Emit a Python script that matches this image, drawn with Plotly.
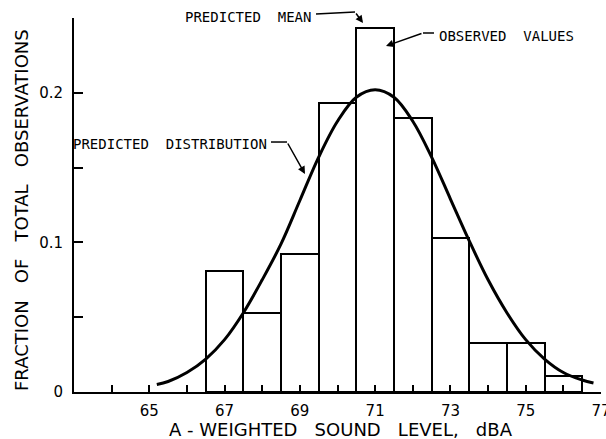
import plotly.graph_objects as go

# ---- data ----
bar_centers = [67, 68, 69, 70, 71, 72, 73, 74, 75, 76]
bar_values = [0.081, 0.053, 0.092, 0.193, 0.243, 0.183, 0.103, 0.033, 0.033, 0.011]

curve_x = [65.2, 65.5, 66.0, 66.5, 67.0, 67.5, 68.0, 68.5, 69.0, 69.5, 70.0, 70.5,
           71.0, 71.5, 72.0, 72.5, 73.0, 73.5, 74.0, 74.5, 75.0, 75.5, 76.0, 76.5, 76.8]
curve_y = [0.005, 0.007, 0.013, 0.022, 0.035, 0.053, 0.075, 0.099, 0.128, 0.157, 0.181, 0.197,
           0.202, 0.197, 0.181, 0.157, 0.129, 0.101, 0.075, 0.053, 0.035, 0.022, 0.013, 0.008, 0.006]

x_tick_vals = [63, 64, 65, 66, 67, 68, 69, 70, 71, 72, 73, 74, 75, 76, 77]
x_tick_text = ["", "", "65", "", "67", "", "69", "", "71", "", "73", "", "75", "", "77"]
y_tick_vals = [0, 0.05, 0.1, 0.15, 0.2, 0.25]
y_tick_text = ["0", "", "0.1", "", "0.2", ""]

FONT = "DejaVu Sans"
MONO = "DejaVu Sans Mono"

fig = go.Figure()
fig.add_trace(go.Bar(
    x=bar_centers, y=bar_values, width=1,
    marker=dict(color="white", line=dict(color="black", width=2)),
    showlegend=False, hoverinfo="skip",
))
fig.add_trace(go.Scatter(
    x=curve_x, y=curve_y, mode="lines",
    line=dict(color="black", width=3, shape="spline", smoothing=1.0),
    showlegend=False, hoverinfo="skip",
))

ann_font = dict(family=MONO, size=14, color="black")
arrow_style = dict(showarrow=True, arrowhead=2, arrowsize=1, arrowwidth=1.5, arrowcolor="black")
annotations = [
    # text labels (paper coordinates)
    dict(x=0.4535, y=1.0027, xref="paper", yref="paper", text="PREDICTED  MEAN", showarrow=False,
         xanchor="right", yanchor="middle", font=ann_font),
    dict(x=0.6888, y=0.9519, xref="paper", yref="paper", text="OBSERVED  VALUES", showarrow=False,
         xanchor="left", yanchor="middle", font=ann_font),
    dict(x=0.3700, y=0.6631, xref="paper", yref="paper", text="PREDICTED  DISTRIBUTION", showarrow=False,
         xanchor="right", yanchor="middle", font=ann_font),
    # arrows
    dict(x=0.5484, y=0.9866, xref="paper", yref="paper", text="", ax=-8, ay=-11, **arrow_style),
    dict(x=0.5920, y=0.9251, xref="paper", yref="paper", text="", ax=37, ay=-13, **arrow_style),
    dict(x=0.4383, y=0.5829, xref="paper", yref="paper", text="", ax=-18, ay=-32, **arrow_style),
    # axis titles
    dict(x=0.5, y=0, xref="paper", yref="paper", text="A - WEIGHTED   SOUND   LEVEL,   dBA",
         showarrow=False, xanchor="center", yanchor="middle", xshift=3, yshift=-37,
         font=dict(family=FONT, size=18, color="black")),
    dict(x=0, y=0.5, xref="paper", yref="paper", text="FRACTION   OF   TOTAL   OBSERVATIONS",
         showarrow=False, xanchor="center", yanchor="middle", xshift=-53, yshift=-5,
         textangle=-90, font=dict(family=FONT, size=18, color="black")),
]

leader = dict(color="black", width=1.5)
shapes = [
    dict(type="line", xref="paper", yref="paper", x0=0.4592, y0=1.0107, x1=0.5332, y1=1.0160, line=leader),
    dict(type="line", xref="paper", yref="paper", x0=0.6831, y0=0.9599, x1=0.6622, y1=0.9599, line=leader),
    dict(type="line", xref="paper", yref="paper", x0=0.3738, y0=0.6684, x1=0.4042, y1=0.6684, line=leader),
]

fig.update_layout(
    width=606, height=439,
    margin=dict(l=74, r=5, t=18, b=47),
    paper_bgcolor="white", plot_bgcolor="white",
    bargap=0,
    annotations=annotations,
    shapes=shapes,
    font=dict(family=FONT, color="black"),
)
fig.update_xaxes(
    range=[63, 77], tickvals=x_tick_vals, ticktext=x_tick_text,
    ticks="inside", ticklen=7, tickwidth=1.5, tickcolor="black",
    showline=True, linewidth=2, linecolor="black",
    showgrid=False, zeroline=False, automargin=False,
    tickfont=dict(family=FONT, size=15, color="black"), ticklabelstandoff=4,
    ticklabeloverflow="allow",
)
fig.update_yaxes(
    range=[0, 0.25], tickvals=y_tick_vals, ticktext=y_tick_text,
    ticks="inside", ticklen=9, tickwidth=1.5, tickcolor="black",
    showline=True, linewidth=2, linecolor="black",
    showgrid=False, zeroline=False, automargin=False,
    tickfont=dict(family=FONT, size=15, color="black"), ticklabelstandoff=6,
)

fig.write_html("out.html", config={"displayModeBar": False},
               post_script="document.body.style.margin='0px';")
